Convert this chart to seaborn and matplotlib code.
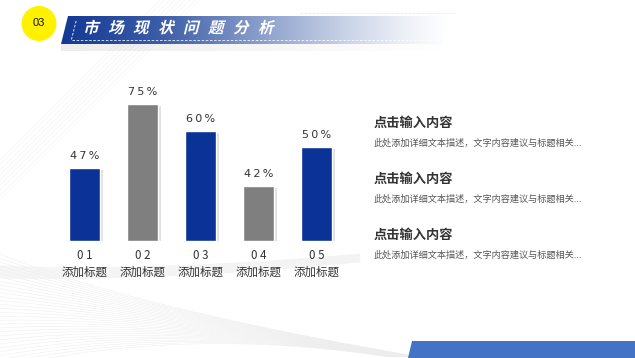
import numpy as np
import pandas as pd
import matplotlib
matplotlib.use("Agg")
import matplotlib.pyplot as plt
import matplotlib.patheffects as pe
from matplotlib.patches import Polygon, Circle, PathPatch
from matplotlib.textpath import TextPath
from matplotlib.font_manager import FontProperties
from matplotlib.transforms import Affine2D
import seaborn as sns

# data
codes = ["0 1", "0 2", "0 3", "0 4", "0 5"]
names = ["添加标题"] * 5
pct_labels = ["47%", "75%", "60%", "42%", "50%"]
bar_heights = [40, 75, 60, 30, 51.5]
bar_colors = ["#0B3397", "#7F7F7F", "#0B3397", "#7F7F7F", "#0B3397"]

items_title = ["点击输入内容"] * 3
items_text = ["此处添加详细文本描述，文字内容建议与标题相关..."] * 3
header_title = "市场现状问题分析"

sns.set_theme(style="white")
plt.rcParams["font.family"] = ["Noto Sans CJK SC", "DejaVu Sans"]

W, H = 635, 358
fig = plt.figure(figsize=(W / 100, H / 100), dpi=100)

# background / decoration axes in pixel coords
bg = fig.add_axes([0, 0, 1, 1], zorder=0)
bg.set_xlim(0, W)
bg.set_ylim(H, 0)
bg.axis("off")

# faint diagonal stripes
for c in np.arange(-100, 520, 5):
    bg.plot([c, c + 260], [260, 0], color="#f3f3f3", lw=0.4, zorder=0)
bg.add_patch(Polygon([[0, 0], [W, 0], [W, H], [0, H], [0, 200], [200, 0]],
                     closed=True, fc="white", ec="none", zorder=0.5))
bg.add_patch(Polygon([[340, 0], [W, 0], [W, H], [340, H]],
                     closed=True, fc="white", ec="none", zorder=0.6))

# faint mesh curves lower-left
t = np.linspace(0, 1, 60)
for k in np.linspace(0, 1, 30):
    p0 = np.array([-10, 250 + 120 * k])
    p1 = np.array([120 + 60 * k, 305 + 20 * k])
    p2 = np.array([420 - 30 * k, 357])
    pts = ((1 - t) ** 2)[:, None] * p0 + (2 * (1 - t) * t)[:, None] * p1 + (t ** 2)[:, None] * p2
    bg.plot(pts[:, 0], pts[:, 1], color="#ededed", lw=0.35, zorder=0.7)
for k in np.linspace(0, 1, 18):
    p0 = np.array([0, 266 + 12 * k])
    p1 = np.array([150, 272 + 10 * k])
    p2 = np.array([360, 254 + 8 * k])
    pts = ((1 - t) ** 2)[:, None] * p0 + (2 * (1 - t) * t)[:, None] * p1 + (t ** 2)[:, None] * p2
    bg.plot(pts[:, 0], pts[:, 1], color="#f0f0f0", lw=0.35, zorder=0.7)

# header: yellow circle
bg.add_patch(Circle((39, 23.5), 17.5, fc="#FFF100", ec="none", zorder=2))
bg.text(39, 23.5, "03", ha="center", va="center", fontsize=8, color="#111111",
        family=["Liberation Sans", "DejaVu Sans"], zorder=3)

# header banner with gradient
banner = Polygon([[61, 44], [68, 16], [450, 16], [443, 44]], closed=True,
                 fc="none", ec="none", zorder=2)
bg.add_patch(banner)
gx = np.linspace(0, 1, 300)
start = np.array([0.07, 0.22, 0.58])
end = np.array([0.72, 0.78, 0.88])
rgba = np.zeros((2, 300, 4))
for i, v in enumerate(gx):
    rgba[:, i, :3] = start * (1 - v) + end * v
    rgba[:, i, 3] = np.clip(1.1 - v ** 1.8 * 1.1, 0, 1)
im = bg.imshow(rgba, extent=[61, 450, 44, 16], aspect="auto", zorder=2,
               interpolation="bilinear")
im.set_clip_path(banner)
sh = np.zeros((2, 300, 4))
sh[:, :, :3] = 0.6
sh[:, :, 3] = np.clip(0.18 - gx * 0.18, 0, 1)
bg.imshow(sh, extent=[61, 450, 51, 44], aspect="auto", zorder=1.5)
bg.set_xlim(0, W)
bg.set_ylim(H, 0)
bg.plot([72, 455], [39.5, 39.5], color="white", lw=0.6, ls=(0, (3, 2)), zorder=3, alpha=0.9)
bg.plot([71.5, 76.5], [39.5, 19.5], color="white", lw=0.6, ls=(0, (3, 2)), zorder=3)
bg.plot([300, 455], [12.5, 12.5], color="#e6e6e6", lw=0.6, ls=(0, (3, 2)), zorder=1)

# slanted, spaced title characters
fp = FontProperties(family="Noto Sans CJK SC", weight="bold")
for i, ch in enumerate(header_title):
    tp = TextPath((0, 0), ch, size=15.5, prop=fp)
    tr = (Affine2D().skew_deg(14, 0).translate(83 + i * 25, H - 33)
          + Affine2D().scale(1 / W, 1 / H) + fig.transFigure)
    fig.patches.append(PathPatch(tp, fc="white", ec="none", transform=tr, zorder=5))

# bottom-right bar
bg.add_patch(Polygon([[408, H], [412, 341], [W, 341], [W, H]], closed=True,
                     fc="#4472C4", ec="none", zorder=2))

# right-side text blocks
tys = [123, 179, 235]
for ty, tt, tx in zip(tys, items_title, items_text):
    bg.text(374, ty, tt, ha="left", va="center", fontsize=9.5, weight="bold",
            color="#333333", zorder=3)
    bg.text(374, ty + 20, tx, ha="left", va="center", fontsize=6.6,
            color="#555555", zorder=3)

# bar chart
df = pd.DataFrame({"cat": [f"{c}\n{n}" for c, n in zip(codes, names)],
                   "height": bar_heights})
ax = fig.add_axes([55.5 / W, (H - 241) / H, 290 / W, 182.7 / H], zorder=1)
ax.patch.set_alpha(0)
sns.barplot(data=df, x="cat", y="height", hue="cat", palette=bar_colors,
            legend=False, width=0.55, saturation=1, ax=ax)
ax.set_ylim(0, 100)
ax.set_xlim(-0.5, 4.5)
ax.set_xlabel("")
ax.set_ylabel("")
ax.set_yticks([])
sns.despine(ax=ax, left=True, bottom=True)
ax.tick_params(axis="x", length=0, pad=6, labelsize=8.3, labelcolor="#333333")
for lbl in ax.get_xticklabels():
    lbl.set_linespacing(1.38)
for p in ax.patches:
    p.set_path_effects([pe.SimplePatchShadow(offset=(1.5, -1.5), shadow_rgbFace="#000000",
                                             alpha=0.12), pe.Normal()])
for cont, lab in zip(ax.containers, pct_labels):
    ax.bar_label(cont, labels=["\u2009".join(lab)], padding=5, fontsize=8,
                 color="#333333", family=["DejaVu Sans"])

fig.savefig("out.png", dpi=100)
